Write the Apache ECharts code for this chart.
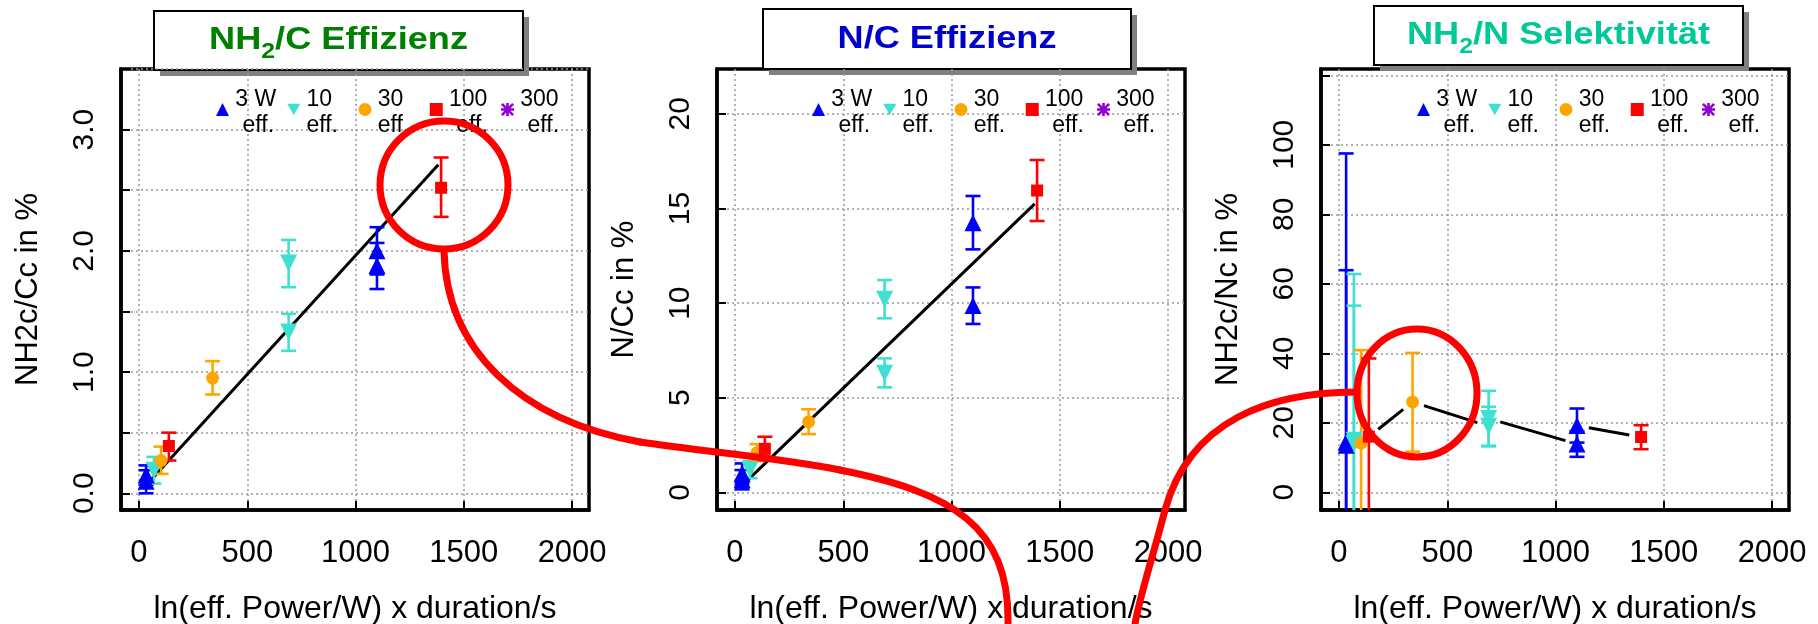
<!DOCTYPE html>
<html>
<head>
<meta charset="utf-8">
<script src="https://cdn.jsdelivr.net/npm/echarts@6/dist/echarts.min.js"></script>
<style>
html, body { margin: 0; padding: 0; background: #fff; }
#chart { width: 1818px; height: 624px; }
</style>
</head>
<body>
<div id="chart"></div>
<script>
// rows: [x, value, error low, error high]
// NH2/C Effizienz
const nhcW3 = [[33, 0.15, 0.07, 0.23], [33, 0.10, 0.00, 0.19], [1099, 2.00, 1.805, 2.195], [1099, 1.88, 1.685, 2.065]];
const nhcW10 = [[69, 0.19, 0.08, 0.30], [691, 1.90, 1.70, 2.09], [691, 1.33, 1.175, 1.48]];
const nhcW30 = [[102, 0.27, 0.16, 0.385], [340, 0.95, 0.815, 1.09]];
const nhcW100 = [[138, 0.39, 0.27, 0.50], [1395, 2.52, 2.28, 2.77]];
const nhcW300 = [];
const nhcFit = [[30, 0.06], [1382, 2.71]];

// N/C Effizienz
const ncW3 = [[33, 1.0, 0.48, 1.53], [33, 0.67, 0.16, 1.18], [1099, 14.25, 12.84, 15.66], [1099, 9.87, 8.9, 10.83]];
const ncW10 = [[69, 1.2, 0.75, 1.65], [691, 10.2, 9.2, 11.22], [691, 6.3, 5.55, 7.08]];
const ncW30 = [[102, 2.1, 1.65, 2.55], [340, 3.73, 3.08, 4.39]];
const ncW100 = [[138, 2.3, 1.7, 2.94], [1395, 15.95, 14.34, 17.56]];
const ncW300 = [];
const ncFit = [[30, 0.33], [1384, 15.24]];

// NH2/N Selektivität
const selW3 = [[33, 14.5, -68, 97.5], [33, 13.5, -37, 63.9], [1099, 13.9, 10.2, 17.6], [1099, 19.2, 14.3, 24.1]];
const selW10 = [[69, 15.0, -32.8, 62.8], [69, 14.0, -25.7, 53.7], [691, 19.0, 13.4, 24.6], [691, 21.2, 13.2, 29.2]];
const selW30 = [[102, 14.1, -12.7, 40.9], [340, 26.0, 11.7, 40.1]];
const selW100 = [[138, 16.0, -6.5, 38.5], [1395, 15.9, 12.4, 19.3]];
const selW300 = [];

const groups = ['3 W eff.', '10 eff.', '30 eff.', '100 eff.', '300 eff.'];
const xTicks = [0, 500, 1000, 1500, 2000];
const yTicks = [[0, 0.5, 1, 1.5, 2, 2.5, 3, 3.5], [0, 5, 10, 15, 20], [0, 20, 40, 60, 80, 100, 120]];
const yLabels = [[0, 1, 2, 3], [0, 5, 10, 15, 20], [0, 20, 40, 60, 80, 100]];
const yNames = ['NH2c/Cc in %', 'N/Cc in %', 'NH2c/Nc in %'];
const xName = 'ln(eff. Power/W) x duration/s';

// layout / style
const FONT = '"Liberation Sans", Arial, sans-serif';
const gridLeft = [121, 717, 1321];
const legendLeft = [216, 812, 1417];
const legendStep = 71.25;
const yMin = [-0.138, -0.93, -5.1];
const yMax = [3.5, 22.37, 121.8];
const colors = ['#0000ff', '#40e0d0', '#ffa500', '#ff0000', '#9400d3'];
const ASTERISK = 'path://M0,4L10,4L10,6L0,6Z M4,0L6,0L6,10L4,10Z M1.4,0L10,8.6L8.6,10L0,1.4Z M8.6,0L10,1.4L1.4,10L0,8.6Z';
const symbols = ['triangle', 'path://M0,0L10,0L5,9Z', 'circle', 'rect', ASTERISK];
const symSize = [17, 17, 13, 12, 12];

const panels = [
  { rows: [nhcW3, nhcW10, nhcW30, nhcW100, nhcW300], fit: nhcFit },
  { rows: [ncW3, ncW10, ncW30, ncW100, ncW300], fit: ncFit },
  { rows: [selW3, selW10, selW30, selW100, selW300], link: true },
];

function renderErr(params, api) {
  const x = api.value(0);
  const a = api.coord([x, api.value(2)]);
  const b = api.coord([x, api.value(3)]);
  const w = 7.5;
  const style = { stroke: api.visual('color'), lineWidth: 2.6, fill: null };
  return { type: 'group', children: [
    { type: 'line', shape: { x1: a[0], y1: a[1], x2: b[0], y2: b[1] }, style },
    { type: 'line', shape: { x1: a[0] - w, y1: a[1], x2: a[0] + w, y2: a[1] }, style },
    { type: 'line', shape: { x1: b[0] - w, y1: b[1], x2: b[0] + w, y2: b[1] }, style },
  ]};
}

// connecting line with a gap around each point
function renderLink(params, api) {
  const a = api.coord([api.value(0), api.value(1)]);
  const b = api.coord([api.value(2), api.value(3)]);
  const dx = b[0] - a[0], dy = b[1] - a[1];
  const len = Math.hypot(dx, dy), gap = 12;
  if (len <= 2 * gap) return null;
  const ux = dx / len, uy = dy / len;
  return { type: 'line', shape: { x1: a[0] + ux * gap, y1: a[1] + uy * gap, x2: b[0] - ux * gap, y2: b[1] - uy * gap },
    style: { stroke: '#000', lineWidth: 3 } };
}

const grids = [], xAxes = [], yAxes = [], legends = [], series = [], legendText = [];
const lblTok = { fontSize: 23, fontFamily: FONT, fill: '#000' };

function label(x, y, txt) {
  return { type: 'text', z: 40, silent: true, x: x, y: y, style: {
    text: '{t|' + txt + '}', align: 'left', verticalAlign: 'middle',
    fontSize: 23, fontFamily: FONT, fill: '#000', rich: { t: lblTok } } };
}

panels.forEach((p, i) => {
  grids.push({ left: gridLeft[i], top: 69, width: 468, height: 441, show: true, borderColor: '#000', borderWidth: 3.5,
    backgroundColor: 'transparent', containLabel: false, outerBoundsMode: 'none' });
  xAxes.push({
    type: 'value', gridIndex: i, min: -83, max: 2078,
    name: xName, nameLocation: 'middle', nameGap: 83,
    nameTextStyle: { fontSize: 32, color: '#000', fontFamily: FONT },
    axisLine: { show: true, onZero: false, lineStyle: { color: '#000', width: 3.5 } },
    axisTick: { inside: true, length: 9, customValues: xTicks, lineStyle: { color: '#000', width: 2 } },
    axisLabel: { customValues: xTicks, margin: 28, fontSize: 31, color: '#000', fontFamily: FONT,
      formatter: v => String(v) },
    splitLine: { show: true, lineStyle: { color: '#999', width: 1.5, type: [2, 3] } },
  });
  yAxes.push({
    type: 'value', gridIndex: i, min: yMin[i], max: yMax[i],
    name: yNames[i], nameLocation: 'middle', nameGap: 77, nameRotate: 90,
    nameTextStyle: { fontSize: 31, color: '#000', fontFamily: FONT },
    axisLine: { show: true, onZero: false, lineStyle: { color: '#000', width: 3.5 } },
    axisTick: { inside: true, length: 9, customValues: yTicks[i], lineStyle: { color: '#000', width: 2 } },
    axisLabel: { customValues: yLabels[i], rotate: 90, margin: 21, fontSize: 30, color: '#000', fontFamily: FONT,
      formatter: v => i === 0 ? v.toFixed(1) : String(v) },
    splitLine: { show: true, lineStyle: { color: '#999', width: 1.5, type: [2, 3] } },
  });
  // legend draws the symbols only, the two-line labels are placed next to them
  legends.push({
    data: groups, left: legendLeft[i], top: 103, padding: 0, itemGap: legendStep - 13, itemWidth: 13, itemHeight: 13,
    selectedMode: false, formatter: () => '', textStyle: { fontSize: 10 },
  });
  groups.forEach((name, k) => {
    const cx = legendLeft[i] + 6.5 + k * legendStep;
    const head = name.replace(' eff.', '');
    legendText.push(label(cx + 12.7, 100, head));
    legendText.push(label(cx + (head.length >= 3 ? 20 : 12.7), 126, 'eff.'));
  });

  p.rows.forEach((rows, g) => {
    series.push({
      name: groups[g], type: 'scatter', xAxisIndex: i, yAxisIndex: i, z: 5,
      symbol: symbols[g], symbolSize: symSize[g],
      itemStyle: { color: colors[g], opacity: 1 },
      data: rows.map(r => [r[0], r[1]]),
    });
    series.push({
      type: 'custom', xAxisIndex: i, yAxisIndex: i, z: 4, clip: true,
      itemStyle: { color: colors[g] },
      encode: { x: 0, y: 1 },
      renderItem: renderErr,
      data: rows,
    });
  });

  if (p.fit) {
    series.push({ type: 'line', xAxisIndex: i, yAxisIndex: i, z: 3, showSymbol: false, silent: true,
      lineStyle: { color: '#000', width: 3 }, data: p.fit });
  }
  if (p.link) {
    const pts = [].concat(...p.rows).map(r => [r[0], r[1]]).sort((a, b) => a[0] - b[0] || a[1] - b[1]);
    const segs = pts.slice(1).map((q, k) => [pts[k][0], pts[k][1], q[0], q[1]]);
    series.push({ type: 'custom', xAxisIndex: i, yAxisIndex: i, z: 3, clip: true, silent: true,
      dimensions: ['x1', 'y1', 'x2', 'y2'], encode: { x: [0, 2], y: [1, 3] },
      renderItem: renderLink, data: segs });
  }
});

// title boxes
function titleBox(x, y, w, h, text, color) {
  const tok = { fontSize: 32, fontWeight: 'bold', fontFamily: FONT, fill: color };
  return { type: 'group', z: 50, children: [
    { type: 'rect', shape: { x: x + 6, y: y + 6, width: w, height: h }, style: { fill: '#808080' } },
    { type: 'rect', shape: { x: x, y: y, width: w, height: h }, style: { fill: '#fff', stroke: '#000', lineWidth: 2 } },
    { type: 'text', x: x + w / 2, y: y + h / 2, scaleX: 1.13, style: {
      text: text, align: 'center', verticalAlign: 'middle', fill: color,
      fontSize: 32, fontWeight: 'bold', fontFamily: FONT,
      rich: { n: tok, s: Object.assign({}, tok, { fontSize: 22, padding: [22, 0, 0, 0] }) } } },
  ]};
}

const RED = { stroke: '#ff0000', lineWidth: 7, fill: 'none', lineCap: 'round' };
function curve(c) {
  return { type: 'bezierCurve', z: 100, silent: true, style: RED,
    shape: { x1: c[0], y1: c[1], cpx1: c[2], cpy1: c[3], cpx2: c[4], cpy2: c[5], x2: c[6], y2: c[7] } };
}

const graphics = legendText.concat([
  titleBox(154, 11, 369, 59, '{n|NH}{s|2}{n|/C Effizienz}', '#008000'),
  titleBox(763, 9, 368, 60, '{n|N/C Effizienz}', '#0000cc'),
  titleBox(1374, 6, 369, 59, '{n|NH}{s|2}{n|/N Selektivität}', '#00c896'),
  { type: 'ellipse', z: 100, silent: true, shape: { cx: 444, cy: 185, rx: 64, ry: 64 }, style: RED },
  { type: 'ellipse', z: 100, silent: true, shape: { cx: 1417, cy: 393, rx: 60, ry: 64 }, style: RED },
  curve([444, 250, 446, 350, 520, 420, 640, 442]),
  curve([640, 442, 707, 452, 780, 458, 840, 470]),
  curve([840, 470, 950, 492, 1010, 525, 1008, 624]),
  curve([1357, 392, 1270, 392, 1190, 420, 1165, 510]),
  curve([1165, 510, 1152, 560, 1140, 595, 1135, 624]),
]);

const chart = echarts.init(document.getElementById('chart'), null, { renderer: 'canvas' });
chart.setOption({
  animation: false,
  backgroundColor: '#fff',
  textStyle: { fontFamily: FONT },
  grid: grids,
  xAxis: xAxes,
  yAxis: yAxes,
  legend: legends,
  series: series,
  graphic: { elements: graphics },
});
</script>
</body>
</html>
